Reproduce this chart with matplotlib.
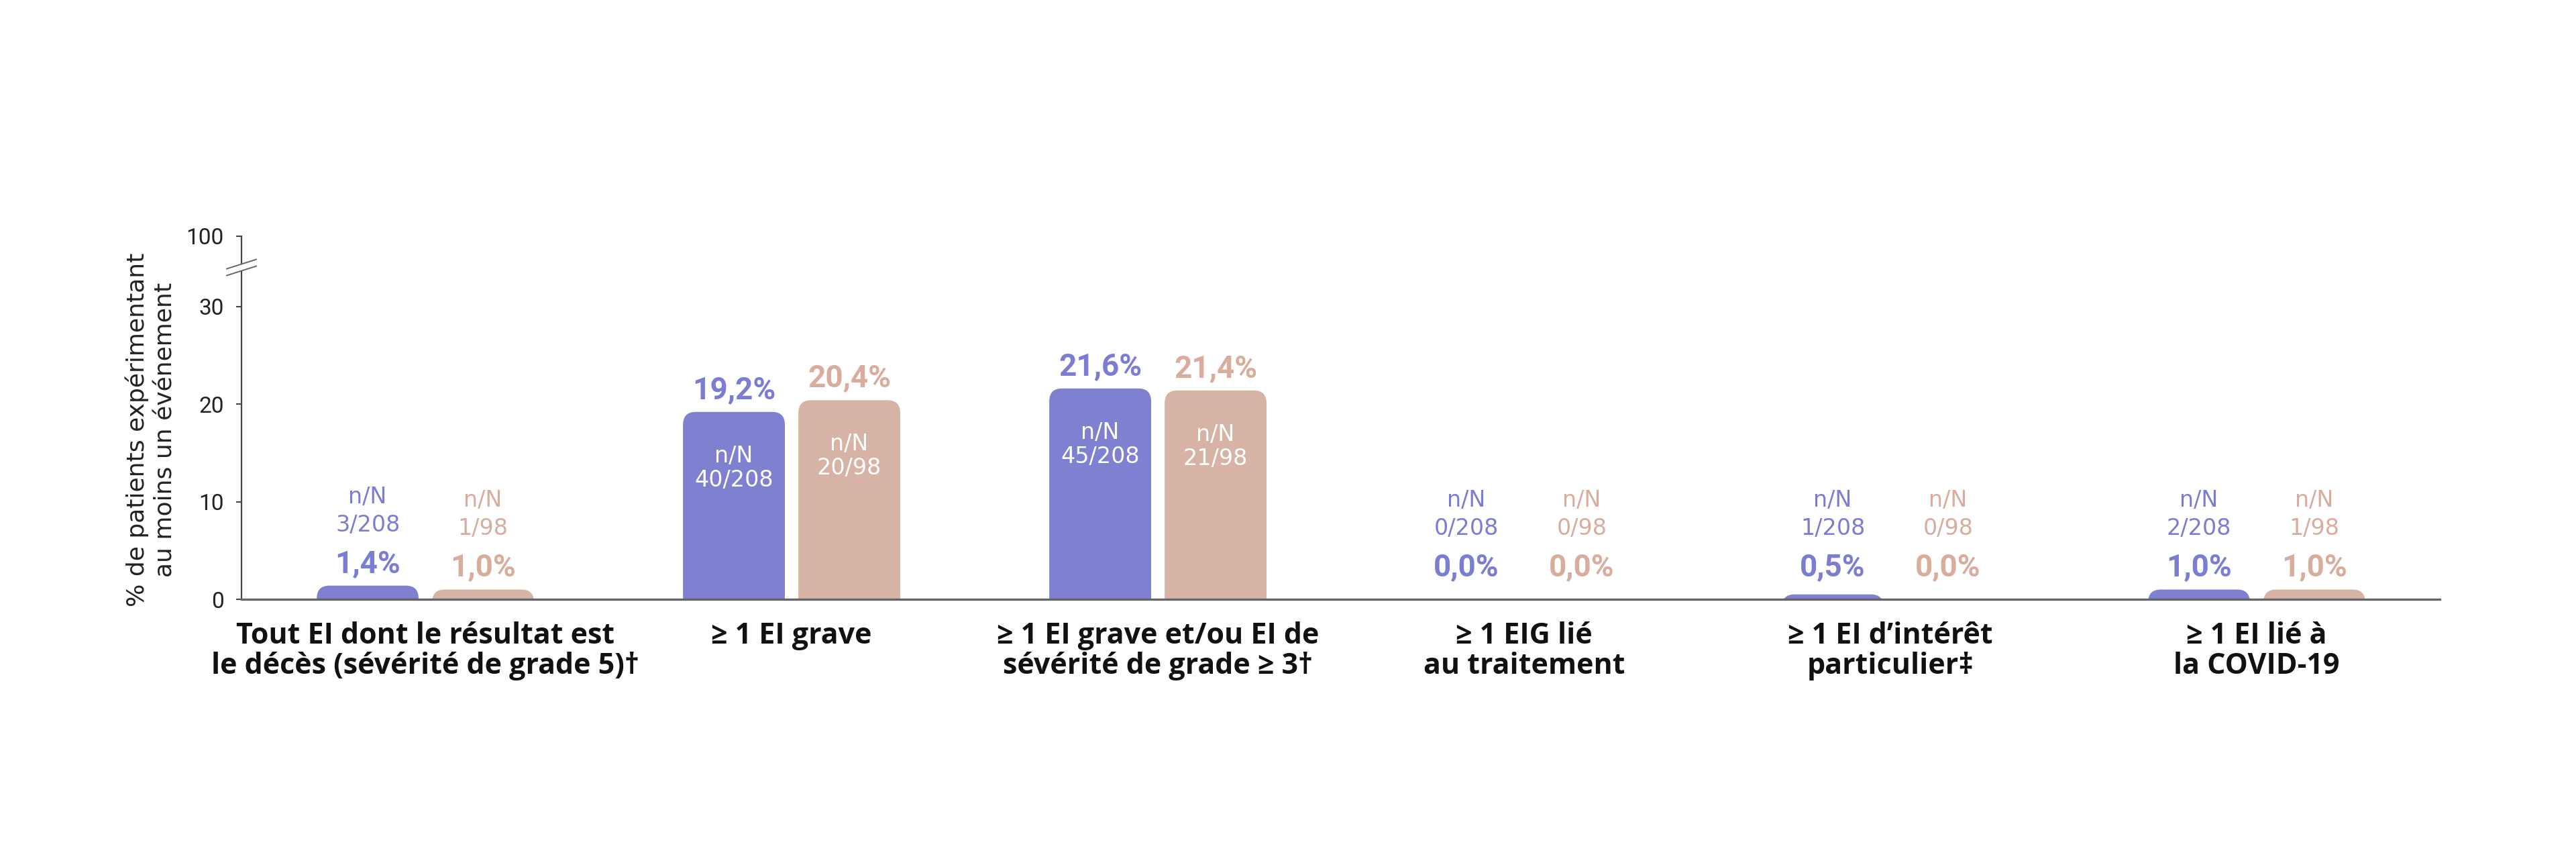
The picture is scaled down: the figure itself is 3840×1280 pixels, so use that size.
import matplotlib
matplotlib.use("Agg")
import numpy as np
import matplotlib.pyplot as plt
from matplotlib.patches import FancyBboxPatch, Polygon
from matplotlib.lines import Line2D

# ---------------- data ----------------
categories = [
    "Tout EI dont le résultat est\nle décès (sévérité de grade 5)\u2020",
    "\u2265 1 EI grave",
    "\u2265 1 EI grave et/ou EI de\nsévérité de grade \u2265 3\u2020",
    "\u2265 1 EIG lié\nau traitement",
    "\u2265 1 EI d\u2019intérêt\nparticulier\u2021",
    "\u2265 1 EI lié à\nla COVID-19",
]
pct_a = [1.4, 19.2, 21.6, 0.0, 0.5, 1.0]
pct_b = [1.0, 20.4, 21.4, 0.0, 0.0, 1.0]
n_a = [3, 40, 45, 0, 1, 2]
n_b = [1, 20, 21, 0, 0, 1]
N_a = 208
N_b = 98
ytick_labels = ["0", "10", "20", "30", "100"]
y_label = "% de patients expérimentant\nau moins un événement"

# ---------------- style ----------------
BLUE = "#7f80cf"
PINK = "#d7b3a5"
BLUE_TXT = "#7b7dd2"
PINK_TXT = "#d8ad9d"
W_PX, H_PX = 3840, 1280

fig = plt.figure(figsize=(W_PX / 100, H_PX / 100), dpi=100)
fig.patch.set_facecolor("white")
ax = fig.add_axes([360 / W_PX, 1 - 893 / H_PX, 3277 / W_PX, (893 - 352) / H_PX])
Y_TOP = 37.2
ax.set_xlim(-0.502, 5.5)
ax.set_ylim(0, Y_TOP)

x = np.arange(len(categories))
off = 0.1575
w = 0.278
bars_a = ax.bar(x - off, pct_a, w, color=BLUE)
bars_b = ax.bar(x + off, pct_b, w, color=PINK)

# pixel scale
p0 = ax.transData.transform((0, 0))
p1 = ax.transData.transform((1, 1))
px_x = p1[0] - p0[0]
px_y = p1[1] - p0[1]
r_px = 19
rx = r_px / px_x
aspect = px_x / px_y
for bars in (bars_a, bars_b):
    for b in bars:
        h = b.get_height()
        b.set_visible(False)
        if h <= 0:
            continue
        ext = 3.0
        patch = FancyBboxPatch((b.get_x(), -ext), b.get_width(), h + ext,
                               boxstyle=f"round,pad=0,rounding_size={rx}",
                               mutation_aspect=aspect,
                               facecolor=b.get_facecolor(), edgecolor="none",
                               zorder=1)
        ax.add_patch(patch)

PCT_FONT = dict(family=["Roboto", "DejaVu Sans"], fontweight="bold", fontsize=33)
NN_FONT = dict(family=["DejaVu Sans"], fontsize=24)


def put(xc, yv, text, dy, color, font):
    ax.annotate(text, xy=(xc, yv), xytext=(0, dy), textcoords="offset pixels",
                ha="center", va="baseline", color=color, zorder=5, **font)


def fmt(v):
    return f"{v:.1f}".replace(".", ",") + "%"


for xs, vals, ns, N, col in ((x - off, pct_a, n_a, N_a, BLUE_TXT),
                             (x + off, pct_b, n_b, N_b, PINK_TXT)):
    for xc, v, n in zip(xs, vals, ns):
        if v > 10:
            put(xc, v, fmt(v), 20, col, PCT_FONT)
            put(xc, v, "n/N", -75, "white", NN_FONT)
            put(xc, v, f"{n}/{N}", -111, "white", NN_FONT)
        else:
            anchor = max(v, 1.0)
            put(xc, anchor, fmt(v), 20, col, PCT_FONT)
            put(xc, anchor, f"{n}/{N}", 81, col, NN_FONT)
            put(xc, anchor, "n/N", 123, col, NN_FONT)

# axes styling
for s in ("top", "right"):
    ax.spines[s].set_visible(False)
ax.spines["left"].set_color("#444444")
ax.spines["left"].set_linewidth(1.6)
ax.spines["bottom"].set_color("#666666")
ax.spines["bottom"].set_linewidth(2.4)
ax.spines["bottom"].set_zorder(3)

ax.set_yticks([0, 10, 20, 30, Y_TOP])
ax.set_yticklabels(ytick_labels, family=["Liberation Sans Narrow", "Roboto"],
                   fontsize=24, color="#222222")
ax.tick_params(axis="y", length=6, width=1.5, color="#444444", pad=13)

ax.set_xticks(x)
ax.set_xticklabels(categories, family=["Open Sans", "DejaVu Sans"],
                   fontweight="bold", fontsize=31, color="#111111",
                   linespacing=1.05)
ax.tick_params(axis="x", length=0, pad=24)

# y-axis break marks
inv = fig.transFigure.inverted()
bx, by = ax.transData.transform((-0.502, 34.0))
dx, dy = 22, 7
gap = 5
up = [(bx - dx, by + gap - dy), (bx + dx, by + gap + dy)]
lo = [(bx - dx, by - gap - dy), (bx + dx, by - gap + dy)]
poly = Polygon(inv.transform(np.array([up[0], up[1], lo[1], lo[0]])),
               closed=True, facecolor="white", edgecolor="none",
               transform=fig.transFigure, zorder=10)
fig.add_artist(poly)
for seg in (up, lo):
    pts = inv.transform(np.array(seg))
    fig.add_artist(Line2D(pts[:, 0], pts[:, 1], color="#666666", lw=1.4,
                          transform=fig.transFigure, zorder=11))

fig.text(225 / W_PX, 1 - 640 / H_PX, y_label, rotation=90, ha="center",
         va="center", family=["DejaVu Sans"], fontsize=26, color="#222222",
         multialignment="center", linespacing=1.3)

fig.savefig("out.png", dpi=100, facecolor="white")
